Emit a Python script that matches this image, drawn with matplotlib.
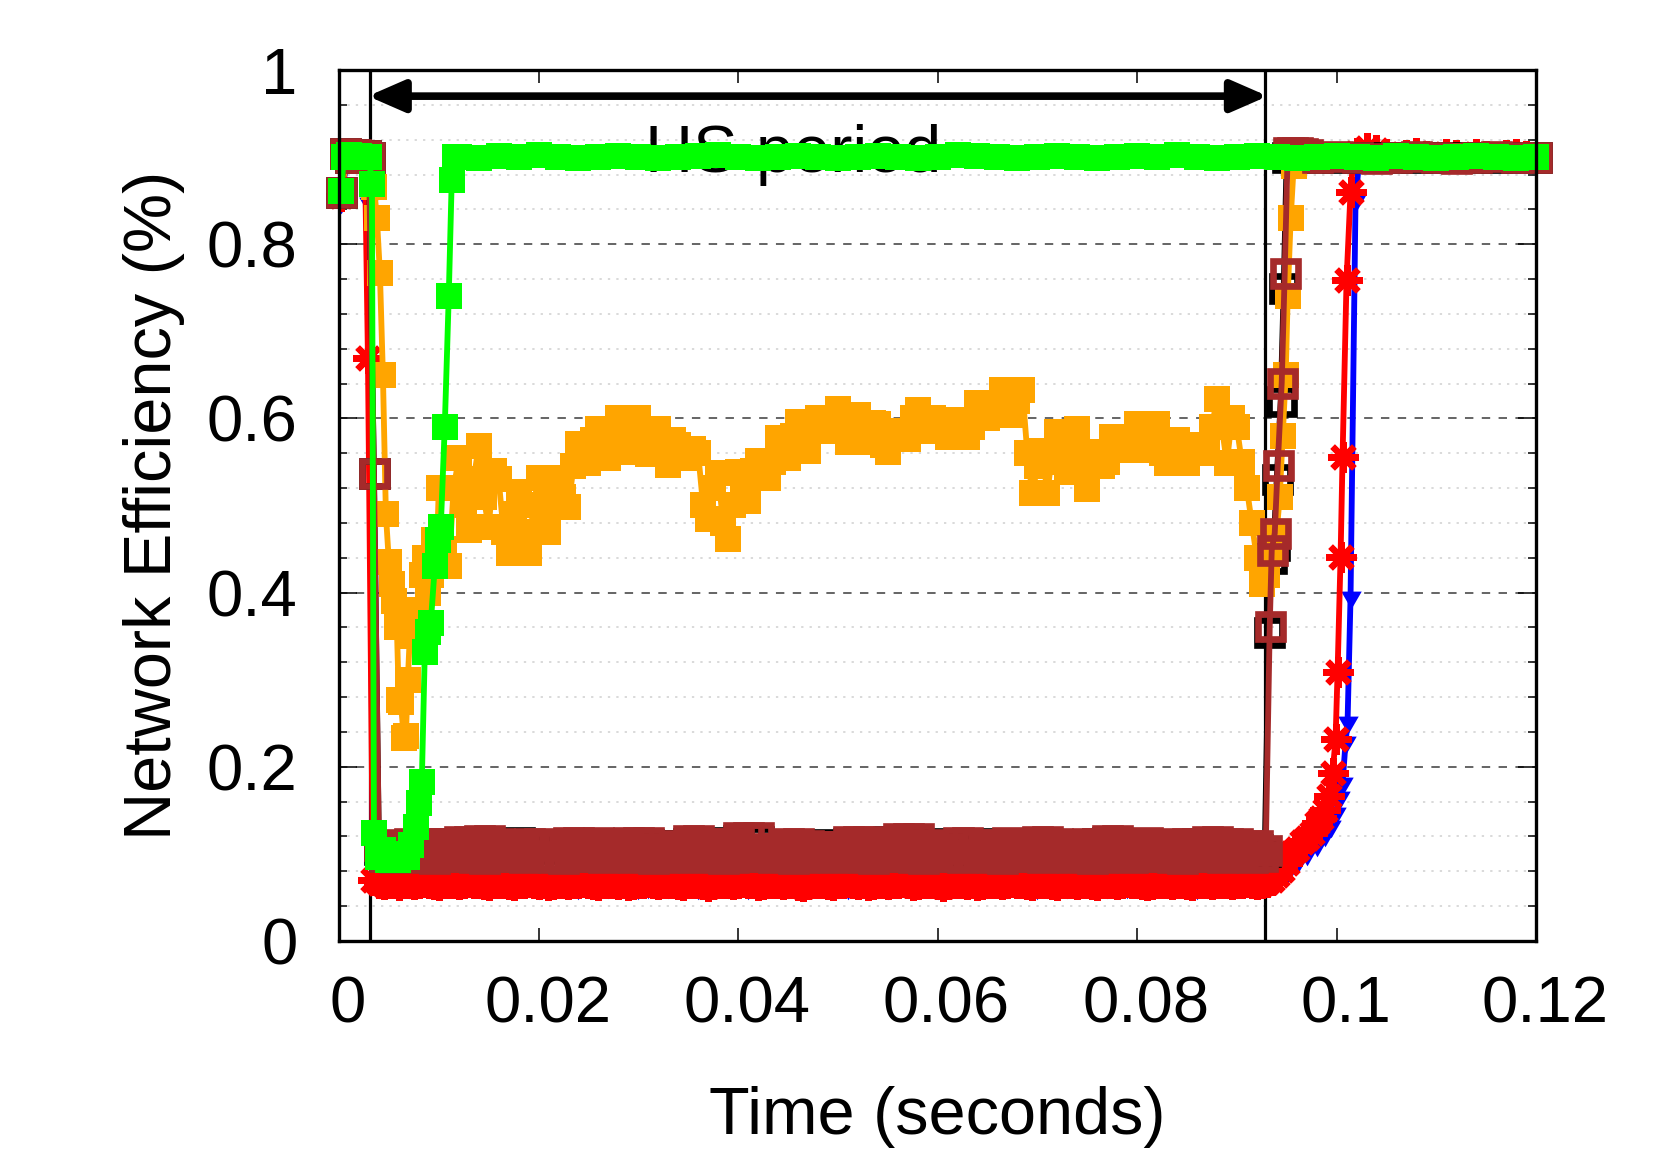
import numpy as np
import matplotlib
matplotlib.use('Agg')
import matplotlib.pyplot as plt
from matplotlib.ticker import MultipleLocator, FuncFormatter
from matplotlib.patches import ArrowStyle
import matplotlib.transforms as mtransforms

plt.rcParams['font.family'] = ['Liberation Sans', 'DejaVu Sans']

# ---------------- data (time in s, efficiency) ----------------
hs_start, hs_end = 0.0031, 0.0928

# blue
blue_pre_t = [0.0002, 0.0008, 0.0014, 0.0020, 0.0026, 0.0030, 0.0034]
blue_pre = [0.848, 0.900, 0.900, 0.900, 0.900, 0.847, 0.066]
blue_band = [0.062, 0.063, 0.061, 0.062, 0.063, 0.062, 0.061, 0.063, 0.062, 0.064,
             0.062, 0.061, 0.063, 0.062, 0.062, 0.063, 0.061, 0.062, 0.063, 0.062,
             0.061, 0.062, 0.063, 0.062, 0.064, 0.062, 0.061, 0.062, 0.063, 0.062,
             0.062, 0.063, 0.061, 0.062, 0.063, 0.062, 0.062, 0.061, 0.063, 0.062,
             0.063, 0.062, 0.061, 0.062, 0.063, 0.064, 0.062, 0.061, 0.062, 0.063,
             0.062, 0.061, 0.063, 0.062, 0.062, 0.063, 0.061, 0.062, 0.063, 0.062,
             0.061, 0.062, 0.063, 0.062, 0.063, 0.062, 0.061, 0.062, 0.064, 0.062,
             0.062, 0.063, 0.061, 0.062, 0.063, 0.062, 0.062, 0.061, 0.063, 0.062,
             0.063, 0.062, 0.061, 0.062, 0.063, 0.062, 0.062, 0.063, 0.064]
blue_rise_t = [0.0930, 0.0940, 0.0950, 0.0960, 0.0970, 0.0980, 0.0988, 0.0994, 0.0999,
               0.1003, 0.1006, 0.1009, 0.1011, 0.1014, 0.1019, 0.1023]
blue_rise = [0.063, 0.068, 0.078, 0.090, 0.100, 0.110, 0.122, 0.132, 0.147,
             0.165, 0.181, 0.228, 0.251, 0.395, 0.851, 0.900]
blue_post = [0.900, 0.901, 0.900, 0.899, 0.900, 0.901, 0.900, 0.900, 0.899]

# red
red_pre_t = [0.0002, 0.0008, 0.0014, 0.0020, 0.0026, 0.0029, 0.0034]
red_pre = [0.855, 0.900, 0.900, 0.900, 0.900, 0.669, 0.070]
red_band = [0.066, 0.065, 0.067, 0.066, 0.064, 0.066, 0.067, 0.065, 0.066, 0.068,
            0.066, 0.065, 0.064, 0.066, 0.067, 0.066, 0.065, 0.066, 0.068, 0.067,
            0.066, 0.065, 0.064, 0.066, 0.066, 0.067, 0.065, 0.064, 0.066, 0.067,
            0.068, 0.066, 0.065, 0.066, 0.064, 0.065, 0.067, 0.066, 0.065, 0.066,
            0.067, 0.068, 0.066, 0.065, 0.064, 0.066, 0.067, 0.066, 0.065, 0.066,
            0.064, 0.065, 0.066, 0.067, 0.068, 0.066, 0.065, 0.066, 0.067, 0.066,
            0.065, 0.064, 0.066, 0.067, 0.066, 0.065, 0.063, 0.065, 0.066, 0.067,
            0.066, 0.065, 0.066, 0.068, 0.067, 0.066, 0.064, 0.065, 0.066, 0.067,
            0.066, 0.065, 0.067, 0.066, 0.064, 0.063, 0.065, 0.066, 0.067, 0.066,
            0.065, 0.064, 0.066, 0.067, 0.068, 0.066, 0.065, 0.066, 0.064, 0.065,
            0.067, 0.066, 0.065, 0.066, 0.067, 0.068, 0.066, 0.064, 0.065, 0.066,
            0.067, 0.066, 0.065, 0.063, 0.065, 0.066, 0.067, 0.066, 0.065, 0.066,
            0.064, 0.065, 0.066, 0.067, 0.066, 0.065, 0.066, 0.068, 0.067, 0.066,
            0.065, 0.064, 0.066, 0.067, 0.066, 0.065, 0.064, 0.066, 0.067, 0.066,
            0.065, 0.066, 0.067, 0.065, 0.064, 0.066, 0.067, 0.066, 0.065, 0.066,
            0.068, 0.067, 0.066, 0.065, 0.064, 0.065, 0.066, 0.067, 0.066, 0.065,
            0.066, 0.067, 0.065, 0.064, 0.066, 0.067, 0.066, 0.065, 0.066, 0.067,
            0.066, 0.065, 0.066, 0.067, 0.068, 0.066, 0.065, 0.066]
red_rise_t = [0.0930, 0.0935, 0.0940, 0.0945, 0.0950, 0.0955, 0.0960, 0.0965, 0.0970,
              0.0975, 0.0980, 0.0984, 0.0988, 0.0992, 0.0996, 0.0999, 0.1001, 0.1004,
              0.1006, 0.1010, 0.1014, 0.1017]
red_rise = [0.068, 0.070, 0.076, 0.082, 0.090, 0.101, 0.106, 0.114, 0.118,
            0.124, 0.135, 0.141, 0.150, 0.166, 0.193, 0.232, 0.309, 0.441,
            0.556, 0.759, 0.860, 0.900]
red_post = [0.905, 0.910, 0.908, 0.903, 0.900, 0.902, 0.905, 0.901, 0.900, 0.903,
            0.902, 0.900, 0.904, 0.901, 0.900, 0.902, 0.903, 0.901, 0.900]

# brown (two interleaved levels inside the HS period)
brown_pre_t = [0.0002, 0.0006, 0.0011, 0.0016, 0.0021, 0.0026, 0.0030, 0.0035]
brown_pre = [0.860, 0.905, 0.900, 0.903, 0.900, 0.902, 0.900, 0.537]
brown_hi = [0.110, 0.110, 0.111, 0.112, 0.113, 0.113, 0.112, 0.112, 0.115, 0.115,
            0.116, 0.116, 0.112, 0.111, 0.111, 0.113, 0.113, 0.110, 0.110, 0.114,
            0.114, 0.112, 0.114, 0.110, 0.110, 0.114, 0.114, 0.114, 0.107, 0.107,
            0.110, 0.116, 0.116, 0.113, 0.112, 0.112, 0.119, 0.119, 0.119, 0.107,
            0.107, 0.113, 0.113, 0.110, 0.109, 0.109, 0.109, 0.115, 0.115, 0.115,
            0.112, 0.112, 0.118, 0.118, 0.118, 0.111, 0.107, 0.107, 0.114, 0.114,
            0.111, 0.111, 0.111, 0.114, 0.110, 0.110, 0.115, 0.115, 0.112, 0.109,
            0.109, 0.113, 0.113, 0.116, 0.116, 0.111, 0.111, 0.114, 0.110, 0.110,
            0.113, 0.113, 0.111, 0.115, 0.115, 0.112, 0.112, 0.110, 0.110]
brown_lo = [0.097, 0.096, 0.097, 0.098, 0.096, 0.095, 0.097, 0.098, 0.097, 0.096,
            0.095, 0.097, 0.098, 0.097, 0.096, 0.097, 0.098, 0.096, 0.095, 0.097,
            0.098, 0.097, 0.096, 0.097, 0.098, 0.096, 0.097, 0.095, 0.096, 0.098,
            0.097, 0.096, 0.098, 0.097, 0.095, 0.096, 0.097, 0.098, 0.097, 0.096,
            0.097, 0.095, 0.096, 0.098, 0.097, 0.096, 0.097, 0.098, 0.096, 0.095,
            0.097, 0.098, 0.097, 0.096, 0.095, 0.097, 0.098, 0.097, 0.096, 0.097,
            0.098, 0.096, 0.095, 0.097, 0.098, 0.097, 0.096, 0.097, 0.098, 0.096,
            0.097, 0.095, 0.096, 0.098, 0.097, 0.096, 0.097, 0.098, 0.097, 0.096,
            0.095, 0.097, 0.098, 0.097, 0.096, 0.097, 0.098, 0.096, 0.097]
brown_rise_t = [0.0929, 0.0933, 0.0935, 0.0938, 0.0941, 0.0945, 0.0948, 0.0951,
                0.0955, 0.0960, 0.0965, 0.0970]
brown_rise = [0.105, 0.362, 0.449, 0.468, 0.546, 0.641, 0.767, 0.906,
              0.906, 0.906, 0.905, 0.904]
brown_post = [0.900, 0.901, 0.900, 0.899, 0.900, 0.901, 0.900, 0.899, 0.900, 0.901,
              0.900, 0.900]

# black (mostly hidden under brown)
black_band = [0.106, 0.107, 0.108, 0.109, 0.110, 0.111, 0.108, 0.109, 0.112, 0.112,
              0.113, 0.113, 0.109, 0.108, 0.114, 0.110, 0.110, 0.108, 0.107, 0.111,
              0.111, 0.109, 0.111, 0.107, 0.108, 0.111, 0.112, 0.111, 0.110, 0.110,
              0.108, 0.113, 0.112, 0.110, 0.114, 0.109, 0.116, 0.116, 0.115, 0.104,
              0.105, 0.110, 0.111, 0.108, 0.106, 0.111, 0.106, 0.112, 0.113, 0.112,
              0.109, 0.115, 0.115, 0.116, 0.108, 0.112, 0.110, 0.104, 0.111, 0.112,
              0.108, 0.109, 0.112, 0.107, 0.108, 0.112, 0.113, 0.110, 0.106, 0.107,
              0.110, 0.110, 0.113, 0.114, 0.108, 0.109, 0.112, 0.107, 0.108, 0.110,
              0.111, 0.108, 0.112, 0.113, 0.109, 0.110, 0.108, 0.107, 0.106]
black_rise_t = [0.0928, 0.0932, 0.0934, 0.0937, 0.0940, 0.0944, 0.0947, 0.0950]
black_rise = [0.103, 0.355, 0.440, 0.455, 0.530, 0.620, 0.750, 0.900]
black_post = [0.900, 0.900, 0.900, 0.900, 0.900, 0.900, 0.900, 0.900, 0.900, 0.900,
              0.900, 0.900]

# orange
orange_pre_t = [0.0002, 0.0008, 0.0014, 0.0020, 0.0026, 0.0031, 0.0035, 0.0038, 0.0041,
                0.0044, 0.0047, 0.0050, 0.0053, 0.0055, 0.0058, 0.0060, 0.0062, 0.0065,
                0.0067, 0.0069, 0.0071, 0.0073, 0.0076, 0.0080, 0.0083, 0.0086, 0.0089,
                0.0092, 0.0095, 0.0098]
orange_pre = [0.860, 0.900, 0.900, 0.900, 0.900, 0.900, 0.866, 0.830, 0.767,
              0.650, 0.490, 0.435, 0.410, 0.390, 0.360, 0.277, 0.274, 0.233,
              0.235, 0.300, 0.350, 0.368, 0.363, 0.380, 0.420, 0.440, 0.400,
              0.420, 0.460, 0.440]
orange_body = [0.520, 0.450, 0.430, 0.520, 0.554, 0.500, 0.472, 0.530, 0.568, 0.510,
               0.475, 0.540, 0.530, 0.470, 0.446, 0.490, 0.515, 0.470, 0.446, 0.500,
               0.532, 0.490, 0.469, 0.510, 0.532, 0.510, 0.498, 0.545, 0.571, 0.560,
               0.549, 0.575, 0.588, 0.565, 0.555, 0.581, 0.600, 0.575, 0.561, 0.590,
               0.600, 0.565, 0.559, 0.577, 0.588, 0.560, 0.547, 0.575, 0.570, 0.560,
               0.555, 0.565, 0.560, 0.500, 0.485, 0.520, 0.537, 0.480, 0.461, 0.500,
               0.538, 0.520, 0.505, 0.540, 0.551, 0.540, 0.531, 0.550, 0.578, 0.560,
               0.554, 0.580, 0.596, 0.565, 0.562, 0.585, 0.600, 0.595, 0.585, 0.600,
               0.611, 0.585, 0.573, 0.590, 0.604, 0.580, 0.573, 0.595, 0.594, 0.570,
               0.561, 0.580, 0.586, 0.578, 0.576, 0.600, 0.610, 0.590, 0.585, 0.600,
               0.598, 0.585, 0.579, 0.590, 0.598, 0.585, 0.579, 0.590, 0.618, 0.605,
               0.601, 0.610, 0.618, 0.633, 0.615, 0.604, 0.620, 0.633, 0.560, 0.514,
               0.545, 0.563, 0.514, 0.560, 0.584, 0.550, 0.539, 0.570, 0.588, 0.540,
               0.519, 0.560, 0.561, 0.545, 0.550, 0.579, 0.570, 0.564, 0.575, 0.579,
               0.594, 0.575, 0.564, 0.580, 0.594, 0.560, 0.549, 0.565, 0.575, 0.555,
               0.549, 0.560, 0.569, 0.570, 0.560, 0.590, 0.622, 0.590, 0.549, 0.600,
               0.590, 0.550, 0.520]
orange_post_t = [0.0915, 0.0920, 0.0925, 0.0930, 0.0935, 0.0940, 0.0943, 0.0946, 0.0949,
                 0.0951, 0.0954, 0.0957, 0.0960]
orange_post = [0.480, 0.440, 0.410, 0.420, 0.450, 0.470, 0.510, 0.580, 0.650,
               0.740, 0.830, 0.890, 0.900]
orange_tail = [0.900, 0.900, 0.901, 0.900, 0.899, 0.900, 0.900, 0.901, 0.900, 0.900,
               0.899, 0.900]

# green
green_pre_t = [0.0002, 0.0005, 0.0010, 0.0015, 0.0020, 0.0025, 0.0030, 0.0033, 0.0035,
               0.0039, 0.0044, 0.0049, 0.0054, 0.0059, 0.0064, 0.0068, 0.0072, 0.0077,
               0.0080, 0.0083, 0.0086, 0.0089, 0.0092, 0.0096, 0.0099, 0.0102, 0.0106,
               0.0110, 0.0113, 0.0116]
green_pre = [0.861, 0.900, 0.902, 0.900, 0.901, 0.900, 0.900, 0.869, 0.124,
             0.096, 0.104, 0.093, 0.099, 0.093, 0.100, 0.096, 0.110, 0.131,
             0.158, 0.183, 0.332, 0.355, 0.365, 0.430, 0.460, 0.475, 0.590,
             0.740, 0.874, 0.900]
green_plateau = [0.900, 0.899, 0.901, 0.900, 0.902, 0.900, 0.899, 0.900, 0.901, 0.900,
                 0.899, 0.900, 0.901, 0.902, 0.900, 0.899, 0.900, 0.901, 0.900, 0.899,
                 0.900, 0.901, 0.900, 0.899, 0.900, 0.902, 0.901, 0.900, 0.899, 0.900,
                 0.901, 0.900, 0.899, 0.900, 0.901, 0.900, 0.902, 0.900, 0.899, 0.900,
                 0.901, 0.900, 0.899, 0.900, 0.901, 0.900, 0.899, 0.901, 0.900, 0.899,
                 0.900, 0.901, 0.900, 0.899, 0.900]

xticks = [0, 0.02, 0.04, 0.06, 0.08, 0.1, 0.12]
yticks = [0, 0.2, 0.4, 0.6, 0.8, 1]


def uniform(t0, dt, vals):
    # evenly sampled piece: times from start and sample period
    return t0 + dt * np.arange(len(vals)), np.asarray(vals)


def join(*pieces):
    ts = np.concatenate([np.asarray(p[0], float) for p in pieces])
    vs = np.concatenate([np.asarray(p[1], float) for p in pieces])
    return ts, vs


blue = join((blue_pre_t, blue_pre), uniform(0.004, 0.001, blue_band),
            (blue_rise_t, blue_rise), uniform(0.104, 0.002, blue_post))
red = join((red_pre_t, red_pre), uniform(0.004, 0.0005, red_band),
           (red_rise_t, red_rise), uniform(0.102, 0.001, red_post))
bh_t, bh_v = uniform(0.004, 0.001, brown_hi)
bl_t, bl_v = uniform(0.0045, 0.001, brown_lo)
brown_band = (np.column_stack([bh_t, bl_t]).ravel(), np.column_stack([bh_v, bl_v]).ravel())
brown = join((brown_pre_t, brown_pre), brown_band, (brown_rise_t, brown_rise),
             uniform(0.098, 0.002, brown_post))
black = join((brown_pre_t, brown_pre), uniform(0.004, 0.001, black_band),
             (black_rise_t, black_rise), uniform(0.098, 0.002, black_post))
orange = join((orange_pre_t, orange_pre), uniform(0.0100, 0.0005, orange_body),
              (orange_post_t, orange_post), uniform(0.098, 0.002, orange_tail))
green = join((green_pre_t, green_pre), uniform(0.012, 0.002, green_plateau))

# ---------------- figure ----------------
fig = plt.figure(figsize=(16.61, 11.63), dpi=100)
ax = fig.add_axes([0.2041, 0.1909, 0.7207, 0.7489])

ax.axvline(hs_start, color='black', lw=2.3, zorder=1.5)
ax.axvline(hs_end, color='black', lw=2.3, zorder=1.5)
ax.text(0.0455, 0.883, 'HS period', fontsize=48, ha='center', va='baseline', zorder=1.6)

lw = 4.2
ax.plot(*blue, color='#0000ff', lw=lw, marker=(3, 0, 180), ms=17, mew=0,
        zorder=2.0, clip_on=False)
ax.plot(*red, color='#ff0000', lw=lw, marker=(8, 2, 0), ms=22, mew=4.6,
        zorder=2.1, clip_on=False)
ax.plot(*black, color='black', lw=lw, marker='s', ms=18, mew=4.8, mfc='none',
        zorder=2.2, clip_on=False)
ax.plot(*orange, color='#ffa500', lw=lw, marker='s', ms=19, mew=0,
        zorder=2.3, clip_on=False)
ax.plot(*brown, color='#a52a2a', lw=lw, marker='s', ms=18, mew=4.8, mfc='none',
        zorder=2.4, clip_on=False)
ax.plot(*green, color='#00ff00', lw=lw, marker='s', ms=19, mew=0,
        zorder=2.5, clip_on=False)

ax.annotate('', xy=(0.0029, 0.97), xytext=(0.0931, 0.97),
            arrowprops=dict(arrowstyle=ArrowStyle('<|-|>', head_length=0.55, head_width=0.24),
                            lw=5.5, color='black', mutation_scale=40,
                            shrinkA=0, shrinkB=0), zorder=3)

ax.set_xlim(0, 0.12)
ax.set_ylim(0, 1)
ax.set_xticks(xticks)
ax.set_yticks(yticks)
ax.xaxis.set_major_formatter(FuncFormatter(lambda v, p: '%g' % round(v, 4)))
ax.yaxis.set_major_formatter(FuncFormatter(lambda v, p: '%g' % round(v, 4)))
ax.yaxis.set_minor_locator(MultipleLocator(0.04))

ax.set_axisbelow(True)
ax.grid(True, which='major', axis='y', linestyle=(0, (5.5, 5.5)), color='#3a3a3a', lw=1.1)
ax.grid(True, which='minor', axis='y', linestyle=(0, (1.5, 4)), color='#d0d0d0', lw=1.1)

ax.tick_params(axis='both', which='both', direction='in', top=True, right=True,
               width=1.1, labelsize=47)
ax.tick_params(axis='y', which='major', length=13, pad=30)
ax.tick_params(axis='y', which='minor', length=6)
ax.tick_params(axis='x', which='major', length=9.5, pad=25)
for s in ax.spines.values():
    s.set_linewidth(2.4)

shift = mtransforms.ScaledTranslation(0.09, 0, fig.dpi_scale_trans)
for lab in ax.get_xticklabels():
    lab.set_transform(lab.get_transform() + shift)

ax.set_xlabel('Time (seconds)', fontsize=48)
ax.set_ylabel('Network Efficiency (%)', fontsize=48)
ax.xaxis.set_label_coords(0.5, -0.166)
ax.yaxis.set_label_coords(-0.129, 0.5)

fig.savefig('out.png', dpi=100)
